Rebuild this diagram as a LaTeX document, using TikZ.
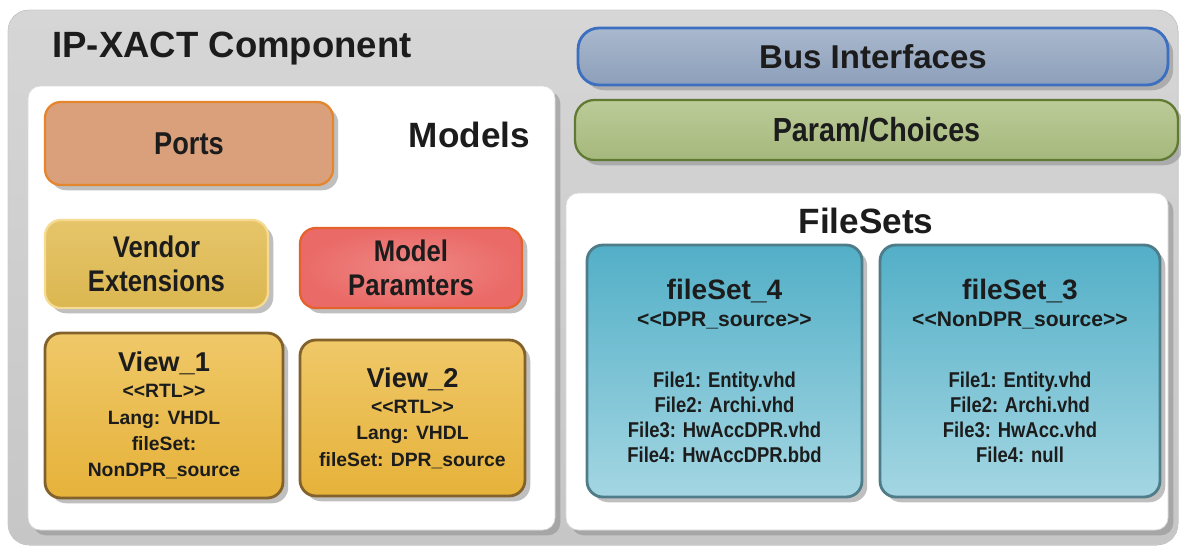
\documentclass[tikz,border=0pt]{standalone}
\usepackage{fontspec}
\setmainfont{Liberation Sans}
\newfontfamily\narrowsf{Liberation Sans}[FakeStretch=0.86]
\usepackage{tikz}
\usetikzlibrary{positioning,fit,shadows}
\definecolor{framegrayA}{HTML}{D6D6D6}
\definecolor{framegrayB}{HTML}{C6C6C6}
\definecolor{inkdark}{HTML}{1C1C1C}
\definecolor{portfill}{HTML}{D9A07B}
\definecolor{portedge}{HTML}{E5862E}
\definecolor{vendfill}{HTML}{DBB750}
\definecolor{vendedge}{HTML}{F6DA92}
\definecolor{mparfill}{HTML}{EA6A67}
\definecolor{mparedge}{HTML}{E5622C}
\definecolor{viewfill}{HTML}{E6B23A}
\definecolor{viewtop}{HTML}{EFC868}
\definecolor{viewedge}{HTML}{82612A}
\definecolor{busfill}{HTML}{8C9FBA}
\definecolor{bustop}{HTML}{A9B8CD}
\definecolor{busedge}{HTML}{3C6FC0}
\definecolor{parfill}{HTML}{A5B87C}
\definecolor{partop}{HTML}{BCCB98}
\definecolor{paredge}{HTML}{607A34}
\definecolor{fsettop}{HTML}{52AFC7}
\definecolor{fsetbot}{HTML}{A4D6E2}
\definecolor{fsetedge}{HTML}{4E7C88}

\begin{document}
\begin{tikzpicture}[
  x=0.02cm, y=-0.02cm,
  shade/.style={drop shadow={shadow xshift=3pt, shadow yshift=-3pt, fill=black!45, opacity=.55}},
  panel/.style={fill=white, draw=black!15, rounded corners=7pt, inner sep=0pt, shade},
  box/.style={rounded corners=9pt, inner sep=0pt, line width=1.3pt, align=center, text=inkdark, shade},
  ttl/.style={font=\bfseries\fontsize{20}{24}\selectfont, text=inkdark},
  portbox/.style={box, fill=portfill, draw=portedge, font=\narrowsf\bfseries\fontsize{18}{21}\selectfont},
  vendbox/.style={box, top color=vendedge!40!vendfill, bottom color=vendfill, draw=vendedge, font=\narrowsf\bfseries\fontsize{17}{19}\selectfont},
  mparbox/.style={box, inner color=mparfill!80!white, outer color=mparfill, draw=mparedge, font=\narrowsf\bfseries\fontsize{17}{19}\selectfont},
  viewbox/.style={box, top color=viewtop, bottom color=viewfill, draw=viewedge, line width=1.6pt, font=\bfseries\fontsize{11}{15}\selectfont},
  busbox/.style={box, rounded corners=12pt, top color=bustop, bottom color=busfill, draw=busedge, line width=1.6pt, font=\bfseries\fontsize{18.8}{22}\selectfont},
  parbox/.style={box, rounded corners=11pt, top color=partop, bottom color=parfill, draw=paredge, font=\narrowsf\bfseries\fontsize{19}{22}\selectfont},
  fsetbox/.style={box, top color=fsettop, bottom color=fsetbot, draw=fsetedge, line width=1.6pt, font=\narrowsf\bfseries\fontsize{12.2}{14.1}\selectfont}
]
\useasboundingbox (0,0) rectangle (1181,548);
\fill[top color=framegrayA, bottom color=framegrayB, draw=black!20, rounded corners=12pt] (8,10) rectangle (1178,545);
\node[ttl, font=\bfseries\fontsize{20.8}{25}\selectfont, anchor=base west, inner sep=0pt] (comp) at (52,57) {IP-XACT Component};

\node[panel, fit={(28,86) (555,530)}] (models) {};
\node[ttl, anchor=base, inner sep=0pt] (modelsttl) at (469.5,147) {Models};
\node[portbox, minimum width=5.76cm, minimum height=1.66cm] (ports) at (189,143.5) {Ports};
\node[vendbox, minimum width=4.46cm, minimum height=1.76cm] (vend) at (156.5,264) {Vendor\\Extensions};
\node[mparbox, minimum width=4.44cm, minimum height=1.6cm] (mpar) at (411,268) {Model\\Paramters};
\node[viewbox, minimum width=4.76cm, minimum height=3.3cm] (view1) at (164,415.5) {{\fontsize{15.5}{18}\selectfont View\_1}\\<{}<RTL>{}>\\Lang: VHDL\\fileSet:\\NonDPR\_source};
\node[viewbox, minimum width=4.5cm, minimum height=3.12cm] (view2) at (412.5,418) {{\fontsize{15.5}{18}\selectfont View\_2}\\<{}<RTL>{}>\\Lang: VHDL\\fileSet: DPR\_source};

\node[busbox, minimum width=11.8cm, minimum height=1.14cm] (bus) at (873,56.5) {Bus Interfaces};
\node[parbox, minimum width=12.06cm, minimum height=1.2cm] (par) at (876.5,130) {Param/Choices};

\node[panel, fit={(566,193) (1168,530)}] (filesets) {};
\node[ttl, anchor=base, inner sep=0pt] (filesetsttl) at (866,233) {FileSets};
\node[fsetbox, minimum width=5.5cm, minimum height=5.04cm] (fset4) at (724.5,371) {{\rmfamily\fontsize{16}{19}\selectfont fileSet\_4}\\[1.3pt]{\rmfamily\fontsize{12}{13}\selectfont <{}<DPR\_source>{}>}\\[20.6pt]File1: Entity.vhd\\File2: Archi.vhd\\File3: HwAccDPR.vhd\\File4: HwAccDPR.bbd};
\node[fsetbox, minimum width=5.6cm, minimum height=5.04cm] (fset3) at (1020,371) {{\rmfamily\fontsize{16}{19}\selectfont fileSet\_3}\\[1.3pt]{\rmfamily\fontsize{12}{13}\selectfont <{}<NonDPR\_source>{}>}\\[20.6pt]File1: Entity.vhd\\File2: Archi.vhd\\File3: HwAcc.vhd\\File4: null};
\end{tikzpicture}
\end{document}
